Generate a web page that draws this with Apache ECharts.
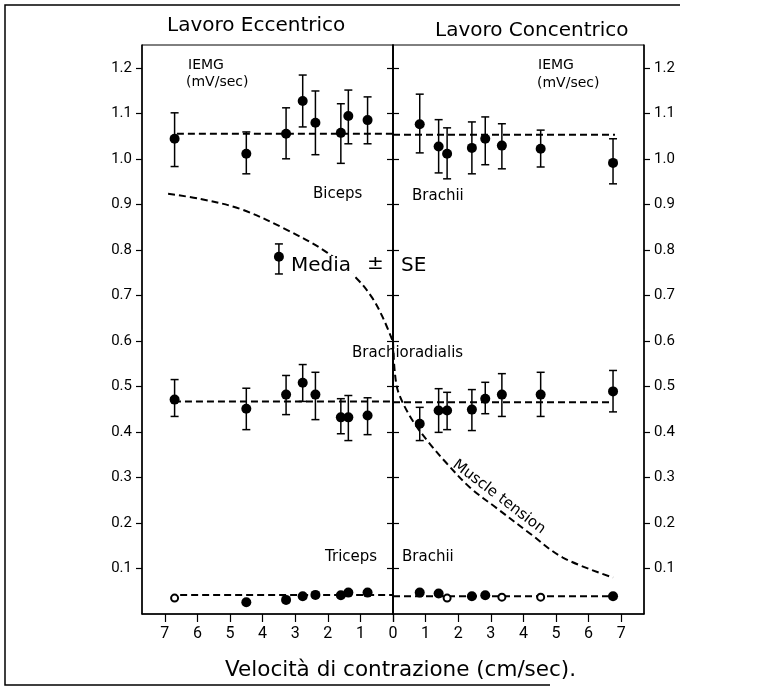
<!DOCTYPE html>
<html>
<head>
<meta charset="utf-8">
<script src="https://cdn.jsdelivr.net/npm/echarts@6/dist/echarts.min.js"></script>
<style>
  html, body { margin: 0; padding: 0; background: #fff; }
  #chart { width: 772px; height: 688px; }
</style>
</head>
<body>
<div id="chart"></div>
<script>
// velocità di contrazione (cm/sec): eccentrico a sinistra (negativo), concentrico a destra
const velEcc = [-6.7, -4.5, -3.28, -2.77, -2.38, -1.6, -1.37, -0.78];
const velCon = [0.82, 1.4, 1.66, 2.42, 2.83, 3.34, 4.53, 6.75];

// Biceps Brachii (media, +SE, -SE)
const bicEcc   = [1.044, 1.011, 1.055, 1.127, 1.079, 1.057, 1.094, 1.085];
const bicEccHi = [1.101, 1.059, 1.112, 1.184, 1.149, 1.121, 1.151, 1.136];
const bicEccLo = [0.983, 0.967, 1.000, 1.070, 1.009, 0.990, 1.033, 1.033];
const bicCon   = [1.076, 1.027, 1.011, 1.024, 1.044, 1.029, 1.022, 0.991];
const bicConHi = [1.142, 1.086, 1.068, 1.081, 1.092, 1.077, 1.063, 1.044];
const bicConLo = [1.013, 0.969, 0.956, 0.967, 0.987, 0.978, 0.982, 0.945];

// Brachioradialis
const braEcc   = [0.471, 0.451, 0.482, 0.508, 0.482, 0.432, 0.432, 0.436];
const braEccHi = [0.515, 0.496, 0.524, 0.548, 0.531, 0.473, 0.480, 0.475];
const braEccLo = [0.434, 0.405, 0.438, 0.467, 0.427, 0.396, 0.381, 0.394];
const braCon   = [0.418, 0.447, 0.447, 0.449, 0.473, 0.482, 0.482, 0.489];
const braConHi = [0.454, 0.495, 0.487, 0.493, 0.509, 0.528, 0.531, 0.535];
const braConLo = [0.381, 0.399, 0.405, 0.403, 0.440, 0.434, 0.434, 0.444];

// Triceps Brachii (1 = cerchio vuoto)
const triEcc     = [0.035, 0.026, 0.031, 0.039, 0.042, 0.041, 0.047, 0.047];
const triEccOpen = [1, 0, 0, 0, 0, 0, 0, 0];
const triCon     = [0.047, 0.045, 0.035, 0.039, 0.041, 0.037, 0.037, 0.039];
const triConOpen = [0, 0, 1, 0, 0, 1, 1, 0];

// rette medie tratteggiate: biceps, brachioradialis, triceps
const meanEcc      = [1.055, 0.467, 0.042];
const meanEccStart = [-6.63, -6.72, -6.53];
const meanCon      = [1.053, 0.465, 0.039];
const meanConEnd   = [6.81, 6.75, 6.75];

// curva "Muscle tension"
const tensEccX = [-6.9, -5.92, -4.69, -3.37, -2.02, -1.1, -0.64, -0.31, 0];
const tensEccY = [0.923, 0.912, 0.890, 0.848, 0.794, 0.736, 0.695, 0.651, 0.598];
const tensConX = [0, 0.06, 0.18, 0.61, 1.13, 1.66, 2.36, 3.19, 4.2, 5.21, 6.75];
const tensConY = [0.598, 0.528, 0.484, 0.424, 0.374, 0.330, 0.278, 0.232, 0.177, 0.124, 0.080];

// chiave "Media ± SE"
const keyPoint = [-3.5, 0.785, 0.747, 0.813];

const xTicksEcc = [-7, -6, -5, -4, -3, -2, -1, 0];
const xTicksCon = [0, 1, 2, 3, 4, 5, 6, 7];
const xLabelsCon = [1, 2, 3, 4, 5, 6, 7];
const yTicks = [0.1, 0.2, 0.3, 0.4, 0.5, 0.6, 0.7, 0.8, 0.9, 1.0, 1.1, 1.2];

const FONT = 'DejaVu Sans';
const TICKFONT = 'Roboto';
const black = '#000';

function pts(vel, vals, open) {
  return vel.map((v, i) => {
    const item = { value: [v, vals[i]] };
    if (open && open[i]) {
      item.symbolSize = 7;
      item.itemStyle = { color: '#fff', borderColor: black, borderWidth: 2, opacity: 1 };
    }
    return item;
  });
}
function bars(vel, lo, hi) {
  return vel.map((v, i) => [v, lo[i], hi[i]]);
}
function errorBars(g, data) {
  return {
    type: 'custom', xAxisIndex: g, yAxisIndex: g * 2, z: 3,
    data: data,
    renderItem: function (params, api) {
      const a = api.coord([api.value(0), api.value(2)]);
      const b = api.coord([api.value(0), api.value(1)]);
      const w = 4;
      const st = { stroke: black, lineWidth: 1.5 };
      return {
        type: 'group',
        children: [
          { type: 'line', shape: { x1: a[0], y1: a[1], x2: b[0], y2: b[1] }, style: st },
          { type: 'line', shape: { x1: a[0] - w, y1: a[1], x2: a[0] + w, y2: a[1] }, style: st },
          { type: 'line', shape: { x1: b[0] - w, y1: b[1], x2: b[0] + w, y2: b[1] }, style: st }
        ]
      };
    }
  };
}
function dots(g, data) {
  return {
    type: 'scatter', xAxisIndex: g, yAxisIndex: g * 2, z: 5,
    symbolSize: 10, itemStyle: { color: black, opacity: 1 },
    data: data
  };
}
function dashed(g, data, smooth) {
  return {
    type: 'line', xAxisIndex: g, yAxisIndex: g * 2, z: 2,
    showSymbol: false, smooth: smooth || false,
    lineStyle: { color: black, width: 2, type: [7, 4] },
    data: data
  };
}

const series = [];
for (let k = 0; k < 3; k++) {
  series.push(dashed(0, [[meanEccStart[k], meanEcc[k]], [0, meanEcc[k]]]));
  series.push(dashed(1, [[0, meanCon[k]], [meanConEnd[k], meanCon[k]]]));
}
series.push(dashed(0, tensEccX.map((x, i) => [x, tensEccY[i]]), 0.35));
series.push(dashed(1, tensConX.map((x, i) => [x, tensConY[i]]), 0.35));

series.push(errorBars(0, bars(velEcc, bicEccLo, bicEccHi)));
series.push(errorBars(1, bars(velCon, bicConLo, bicConHi)));
series.push(errorBars(0, bars(velEcc, braEccLo, braEccHi)));
series.push(errorBars(1, bars(velCon, braConLo, braConHi)));
series.push(errorBars(0, [[keyPoint[0], keyPoint[2], keyPoint[3]]]));

series.push(dots(0, pts(velEcc, bicEcc)));
series.push(dots(1, pts(velCon, bicCon)));
series.push(dots(0, pts(velEcc, braEcc)));
series.push(dots(1, pts(velCon, braCon)));
series.push(dots(0, pts(velEcc, triEcc, triEccOpen)));
series.push(dots(1, pts(velCon, triCon, triConOpen)));
series.push(dots(0, [[keyPoint[0], keyPoint[1]]]));

function yAxis(g, pos, labels) {
  return {
    type: 'value', gridIndex: g, position: pos, min: 0, max: 1.25,
    axisLine: { show: true, onZero: false, lineStyle: { color: black, width: 1.5 } },
    axisTick: { show: true, length: 6, customValues: yTicks, lineStyle: { color: black, width: 1.2 } },
    axisLabel: {
      show: labels, customValues: yTicks, margin: 10,
      color: black, fontFamily: TICKFONT, fontSize: 15,
      formatter: v => v.toFixed(1)
    },
    splitLine: { show: false }
  };
}
function xAxis(g, min, max, ticks, labels) {
  return {
    type: 'value', gridIndex: g, min: min, max: max,
    axisLine: { onZero: false, lineStyle: { color: black, width: 1.5 } },
    axisTick: { length: 8, customValues: ticks, lineStyle: { color: black, width: 1.2 } },
    axisLabel: {
      customValues: labels, margin: 12,
      color: black, fontFamily: TICKFONT, fontSize: 16,
      formatter: v => String(Math.abs(v))
    },
    splitLine: { show: false }
  };
}

const txt = (x, y, text, size, extra) => Object.assign({
  type: 'text', x: x, y: y, z: 10,
  style: Object.assign({ text: text, fill: black, font: size + 'px "' + FONT + '"', verticalAlign: 'middle' }, extra || {})
});
const titleStyle = { fontFamily: FONT, fontSize: 20, fontWeight: 'normal', color: black };

const option = {
  backgroundColor: '#fff',
  animation: false,
  grid: [
    { left: 142, top: 45, width: 251, bottom: 74, show: true, borderColor: black, borderWidth: 1 },
    { left: 393, top: 45, width: 251, bottom: 74, show: true, borderColor: black, borderWidth: 1 }
  ],
  xAxis: [
    xAxis(0, -7.7, 0, xTicksEcc, xTicksEcc),
    xAxis(1, 0, 7.7, xTicksCon, xLabelsCon)
  ],
  yAxis: [
    yAxis(0, 'left', true),
    yAxis(0, 'right', false),
    yAxis(1, 'left', false),
    yAxis(1, 'right', true)
  ],
  title: [
    { text: 'Lavoro Eccentrico', left: 162, top: 11, textStyle: titleStyle },
    { text: 'Lavoro Concentrico', left: 430, top: 16, textStyle: titleStyle },
    { text: 'Velocità di contrazione (cm/sec).', left: 220, top: 654, textStyle: Object.assign({}, titleStyle, { fontSize: 21.5 }) }
  ],
  graphic: [
    { type: 'polyline', shape: { points: [[680, 5], [5, 5], [5, 685], [550, 685]] }, style: { stroke: black, lineWidth: 1.5, fill: null } },
    txt(188, 65, 'IEMG', 14),
    txt(186, 82, '(mV/sec)', 14),
    txt(538, 65, 'IEMG', 14),
    txt(537, 83, '(mV/sec)', 14),
    txt(313, 194, 'Biceps', 15),
    txt(412, 196, 'Brachii', 15),
    txt(352, 353, 'Brachioradialis', 15),
    txt(325, 557, 'Triceps', 15),
    txt(402, 557, 'Brachii', 15),
    txt(291, 266, 'Media', 20, { backgroundColor: '#fff', padding: [0, 2, 0, 0] }),
    txt(367, 264, '±', 20),
    txt(401, 266, 'SE', 20),
    {
      type: 'text', x: 499, y: 497, rotation: -0.65, z: 10,
      style: { text: 'Muscle tension', fill: black, font: '15px "' + FONT + '"', align: 'center', verticalAlign: 'middle' }
    }
  ],
  series: series
};

const chart = echarts.init(document.getElementById('chart'));
chart.setOption(option);
</script>
</body>
</html>
